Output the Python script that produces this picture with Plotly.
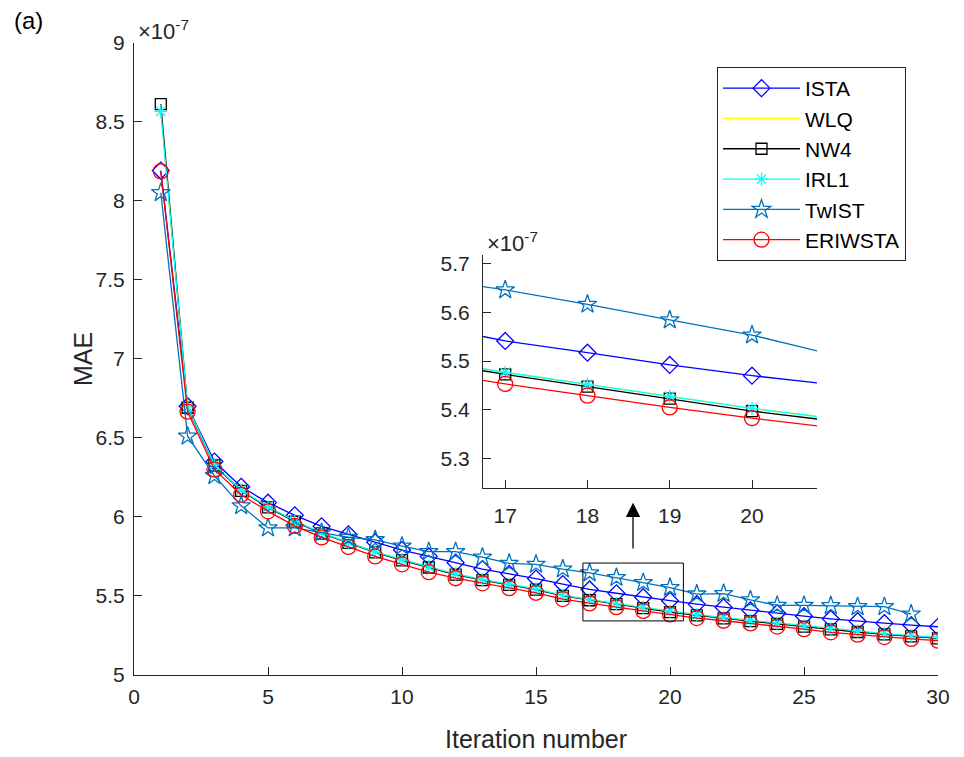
import plotly.graph_objects as go

# ---- data (MAE, in units of 1e-7) ----
iters = list(range(1, 31))
iters_twist = list(range(1, 30))

ista = [8.19, 6.70, 6.35, 6.19, 6.09, 6.01, 5.94, 5.89, 5.84, 5.79,
        5.75, 5.71, 5.67, 5.64, 5.61, 5.575, 5.541, 5.517, 5.492, 5.470,
        5.448, 5.428, 5.409, 5.390, 5.372, 5.355, 5.340, 5.328, 5.316, 5.305]
nw4 = [8.61, 6.69, 6.325, 6.165, 6.06, 5.97, 5.895, 5.835, 5.775, 5.725,
       5.68, 5.635, 5.60, 5.57, 5.54, 5.50, 5.4726, 5.4477, 5.4228, 5.3975,
       5.377, 5.358, 5.341, 5.323, 5.306, 5.288, 5.272, 5.257, 5.244, 5.232]
irl1 = [8.565, 6.694, 6.329, 6.169, 6.064, 5.974, 5.899, 5.839, 5.779, 5.729,
        5.684, 5.639, 5.604, 5.574, 5.544, 5.504, 5.4768, 5.452, 5.428, 5.403,
        5.382, 5.363, 5.346, 5.328, 5.311, 5.293, 5.277, 5.262, 5.249, 5.237]
wlq = [8.565, 6.694, 6.329, 6.169, 6.064, 5.974, 5.899, 5.839, 5.779, 5.729,
       5.684, 5.639, 5.604, 5.574, 5.544, 5.504, 5.4768, 5.452, 5.428, 5.403,
       5.382, 5.363, 5.346, 5.328, 5.311, 5.293, 5.277, 5.262, 5.249, 5.237]
twist = [8.05, 6.51, 6.26, 6.07, 5.93, 5.93, 5.90, 5.87, 5.855, 5.815,
         5.78, 5.78, 5.745, 5.706, 5.70, 5.67, 5.6455, 5.616, 5.584, 5.553,
         5.512, 5.515, 5.475, 5.440, 5.440, 5.438, 5.432, 5.432, 5.385]
eriwsta = [8.185, 6.665, 6.30, 6.14, 6.035, 5.943, 5.87, 5.81, 5.75, 5.70,
           5.65, 5.612, 5.58, 5.549, 5.52, 5.48, 5.453, 5.429, 5.405, 5.383,
           5.36, 5.343, 5.326, 5.306, 5.29, 5.27, 5.255, 5.24, 5.228, 5.217]

main_yticks = [5, 5.5, 6, 6.5, 7, 7.5, 8, 8.5, 9]
main_ytext = ["5", "5.5", "6", "6.5", "7", "7.5", "8", "8.5", "9"]
main_xticks = [0, 5, 10, 15, 20, 25, 30]
inset_xticks = [17, 18, 19, 20]
inset_yticks = [5.3, 5.4, 5.5, 5.6, 5.7]
inset_ytext = ["5.3", "5.4", "5.5", "5.6", "5.7"]

W, H = 964, 757
FONT = "Liberation Sans, Arial, Helvetica, sans-serif"
AX = "#262626"

series = [
    ("ISTA", iters, ista, "#0000FF", "diamond-open", 13),
    ("WLQ", iters, wlq, "#FFFF00", None, 0),
    ("NW4", iters, nw4, "#000000", "square-open", 11),
    ("IRL1", iters, irl1, "#00FFFF", "asterisk-open", 11),
    ("TwIST", iters_twist, twist, "#0072BD", "star-open", 14),
    ("ERIWSTA", iters, eriwsta, "#FF0000", "circle-open", 15),
]

fig = go.Figure()
for axes in (("x", "y"), ("x2", "y2")):
    for name, xs, ys, col, sym, sz in series:
        mode = "lines+markers" if sym else "lines"
        mk = dict(symbol=sym, size=sz, color=col, line=dict(color=col, width=1.3)) if sym else None
        fig.add_trace(go.Scatter(
            x=xs, y=ys, name=name, mode=mode,
            line=dict(color=col, width=1.3),
            marker=mk, xaxis=axes[0], yaxis=axes[1],
            showlegend=(axes[0] == "x"), legendgroup=name,
            cliponaxis=True,
        ))

def px_x(p):
    return p / W

def px_y(p):
    return 1 - p / H

axis_common = dict(
    showgrid=False, zeroline=False, showline=True, linecolor=AX, linewidth=1,
    ticks="inside", ticklen=8, tickcolor=AX, tickwidth=1, mirror=False,
    automargin=False,
    tickfont=dict(family=FONT, size=21, color=AX),
)

fig.update_layout(
    template="none",
    width=W, height=H,
    margin=dict(l=0, r=0, t=0, b=0, pad=0, autoexpand=False),
    paper_bgcolor="white", plot_bgcolor="white",
    xaxis=dict(domain=[px_x(134), px_x(938)], range=[0, 30], tickvals=main_xticks,
               anchor="y", ticklabelstandoff=3, **axis_common),
    yaxis=dict(domain=[px_y(675), px_y(42.5)], range=[5, 9], tickvals=main_yticks,
               ticktext=main_ytext, anchor="x", ticklabelstandoff=4, **axis_common),
    xaxis2=dict(domain=[px_x(483), px_x(817)], range=[16.73, 20.79], tickvals=inset_xticks,
                anchor="y2", ticklabelstandoff=9, **axis_common),
    yaxis2=dict(domain=[px_y(488), px_y(255)], range=[5.24, 5.717], tickvals=inset_yticks,
                ticktext=inset_ytext, anchor="x2", ticklabelstandoff=8, **axis_common),
    showlegend=True,
    legend=dict(
        x=px_x(717), y=px_y(67), xanchor="left", yanchor="top",
        bgcolor="white", bordercolor=AX, borderwidth=1,
        font=dict(family=FONT, size=21, color="#000000"),
        tracegroupgap=0, itemwidth=77,
    ),
)

# white backdrop for inset
fig.add_shape(type="rect", xref="paper", yref="paper",
              x0=px_x(483), x1=px_x(817), y0=px_y(488), y1=px_y(255),
              fillcolor="white", line=dict(width=0), layer="below")

# zoom rectangle on main axes
fig.add_shape(type="rect", xref="x", yref="y", x0=16.75, x1=20.5, y0=5.342, y1=5.708,
              line=dict(color="#000000", width=1), layer="above")

# arrow
fig.add_annotation(x=18.62, y=6.09, ax=18.62, ay=5.79, xref="x", yref="y",
                   axref="x", ayref="y", showarrow=True, arrowhead=2, arrowsize=2.2,
                   arrowwidth=1.3, arrowcolor="#000000", text="")

# axis titles
fig.add_annotation(x=px_x(536), y=px_y(739), xref="paper", yref="paper",
                   xanchor="center", yanchor="middle",
                   text="Iteration number", showarrow=False,
                   font=dict(family=FONT, size=25, color=AX))
fig.add_annotation(x=px_x(83), y=px_y(359), xref="paper", yref="paper",
                   xanchor="center", yanchor="middle",
                   text="MAE", showarrow=False, textangle=-90,
                   font=dict(family=FONT, size=25, color=AX))

# exponent labels
fig.add_annotation(x=px_x(136), y=px_y(30), xref="paper", yref="paper",
                   xanchor="left", yanchor="middle",
                   text="×10<sup>-7</sup>", showarrow=False,
                   font=dict(family=FONT, size=22, color=AX))
fig.add_annotation(x=px_x(485), y=px_y(242), xref="paper", yref="paper",
                   xanchor="left", yanchor="middle",
                   text="×10<sup>-7</sup>", showarrow=False,
                   font=dict(family=FONT, size=22, color=AX))

# panel label
fig.add_annotation(x=px_x(12), y=px_y(21), xref="paper", yref="paper",
                   xanchor="left", yanchor="middle",
                   text="(a)", showarrow=False,
                   font=dict(family=FONT, size=24, color="#000000"))

fig.write_html("out.html")
